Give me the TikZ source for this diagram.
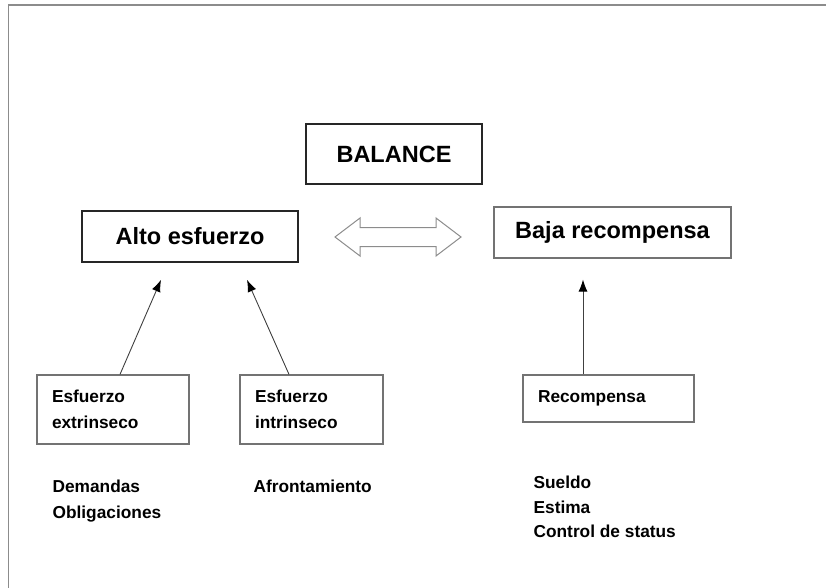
\documentclass[tikz,border=0pt]{standalone}
\usepackage{fontspec}
\setmainfont{Liberation Sans}
\usetikzlibrary{arrows.meta}
\usetikzlibrary{positioning}

\begin{document}
\begin{tikzpicture}[x=1pt,y=-1pt,>={Latex[length=12pt,width=9pt,black]},
                    title box/.style={draw=black!85,line width=1.6pt,inner sep=0pt,
                      font=\fontsize{23.5}{28}\selectfont\bfseries},
                    item box/.style={draw=black!55,line width=1.2pt,inner xsep=15pt,inner ysep=0pt,
                      align=left,font=\fontsize{17.3}{26}\selectfont\bfseries},
                    list text/.style={inner sep=0pt,align=left,font=\fontsize{17.3}{26}\selectfont\bfseries},
                    link/.style={->,draw=black!75,line width=0.9pt}]

  \useasboundingbox (0,0) rectangle (826,588);
  \draw[black!45,line width=1.5pt] (8.5,588) -- (8.5,5) -- (826,5);

  % top row
  \node[title box,minimum width=176pt,minimum height=60pt] (balance) at (394,154) {BALANCE};
  \node[title box,minimum width=216pt,minimum height=51pt] (alto) at (190,236.5) {Alto esfuerzo};
  \node[title box,draw=black!55,line width=1.2pt,minimum width=237pt,minimum height=51pt]
    (baja) at (612.5,232.5) {Baja recompensa};

  \draw[black!45,line width=1pt] (335,237) -- (360,218) -- (360,227.5) -- (436,227.5) -- (436,218)
    -- (461,237) -- (436,256) -- (436,246.5) -- (360,246.5) -- (360,256) -- cycle;

  % sources
  \node[item box,text width=122pt,minimum height=69pt] (ext) at (113,409.5) {Esfuerzo\\extrinseco};
  \node[item box,text width=113pt,minimum height=69pt] (intr) at (311.5,409.5) {Esfuerzo\\intrinseco};
  \node[item box,text width=141pt,minimum height=47pt] (recomp) at (608.5,398.5) {Recompensa};

  \node[list text,below=35.5pt of ext.south west,anchor=north west,xshift=16pt] (dem) {Demandas\\Obligaciones};
  \node[list text,below=35.5pt of intr.south west,anchor=north west,xshift=14pt] (afr) {Afrontamiento};
  \node[list text,below=53.5pt of recomp.south west,anchor=north west,xshift=11pt,
        font=\fontsize{17.3}{24.5}\selectfont\bfseries] (sueldo) {Sueldo\\Estima\\Control de status};

  \coordinate[below=17pt of alto.south,xshift=-29pt] (tip ext);
  \coordinate[below=17pt of alto.south,xshift=57pt] (tip intr);
  \coordinate[below=21pt of baja.south,xshift=-29.5pt] (tip recomp);

  \draw[link] ([xshift=7pt]ext.north) -- (tip ext);
  \draw[link] ([xshift=-22.5pt]intr.north) -- (tip intr);
  \draw[link] ([xshift=-25.5pt]recomp.north) -- (tip recomp);
\end{tikzpicture}
\end{document}
